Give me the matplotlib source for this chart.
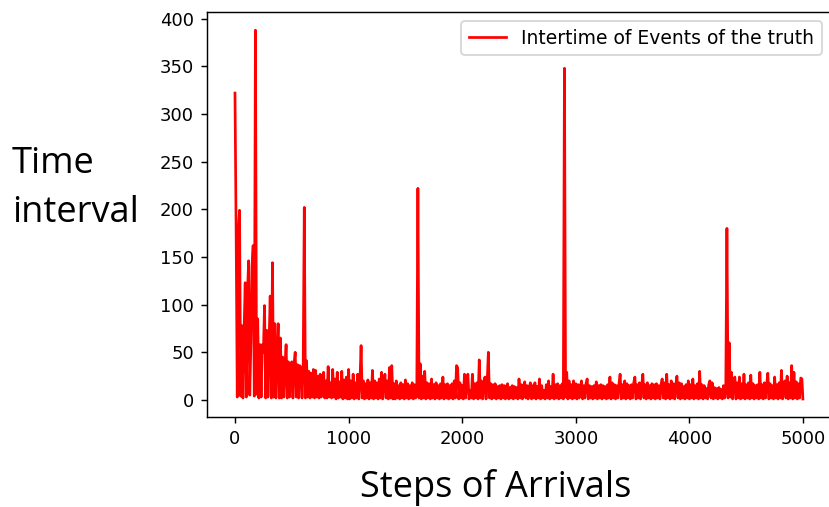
import numpy as np
import matplotlib
matplotlib.use("Agg")
import matplotlib.pyplot as plt

# dense zig-zag line: keep every vertex so the band renders solid
plt.rcParams["path.simplify"] = False

# ----------------------------------------------------------------------
# Data: inter-event times, one value every 10 steps
# ----------------------------------------------------------------------
steps = np.append(np.arange(0, 5000, 10), 4999)

intertime = [
    # 0 - 190
    322, 178, 3, 176, 199, 4, 78, 2, 73, 123, 3, 112, 146, 5, 60, 140, 162, 4, 388, 6,
    # 200 - 390
    85, 2, 58, 3, 58, 50, 99, 2, 73, 3, 60, 109, 2, 144, 3, 80, 2, 45, 80, 2,
    # 400 - 590
    65, 2, 45, 3, 35, 58, 2, 40, 3, 36, 40, 2, 38, 50, 3, 37, 2, 36, 34, 2,
    # 600 - 790
    30, 202, 2, 41, 3, 30, 2, 28, 3, 32, 2, 31, 3, 25, 2, 27, 3, 22, 29, 2,
    # 800 - 990
    20, 2, 35, 3, 18, 2, 32, 3, 22, 1, 29, 2, 19, 3, 30, 1, 21, 2, 24, 1,
    # 1000 - 1190
    32, 1, 20, 2, 27, 1, 18, 2, 27, 1, 20, 57, 2, 20, 1, 17, 2, 21, 1, 18,
    # 1200 - 1390
    2, 31, 1, 20, 2, 18, 1, 22, 2, 29, 1, 19, 27, 2, 20, 1, 34, 2, 36, 1,
    # 1400 - 1590
    17, 1, 20, 2, 15, 1, 18, 2, 16, 1, 21, 2, 17, 1, 15, 2, 18, 1, 16, 2,
    # 1600 - 1790
    5, 222, 2, 38, 1, 25, 2, 30, 1, 18, 2, 17, 1, 22, 2, 16, 1, 18, 2, 15,
    # 1800 - 1990
    1, 17, 2, 24, 1, 16, 2, 17, 1, 15, 2, 17, 1, 20, 2, 36, 34, 1, 18, 2,
    # 2000 - 2190
    15, 1, 27, 2, 18, 27, 1, 10, 2, 27, 1, 17, 2, 18, 1, 42, 2, 20, 1, 16,
    # 2200 - 2390
    24, 1, 19, 50, 2, 17, 1, 16, 2, 17, 1, 14, 2, 15, 1, 16, 2, 15, 1, 14,
    # 2400 - 2590
    17, 1, 13, 2, 15, 1, 14, 2, 13, 1, 22, 2, 16, 1, 14, 19, 2, 15, 1, 13,
    # 2600 - 2790
    18, 1, 15, 2, 18, 1, 14, 2, 22, 1, 15, 2, 10, 1, 16, 2, 20, 1, 14, 2,
    # 2800 - 2990
    27, 1, 16, 2, 17, 1, 15, 2, 17, 1, 348, 3, 29, 1, 20, 2, 16, 1, 20, 2,
    # 3000 - 3190
    17, 1, 16, 2, 14, 20, 1, 15, 2, 17, 22, 1, 15, 2, 14, 1, 15, 2, 19, 1,
    # 3200 - 3390
    15, 2, 16, 1, 15, 2, 14, 1, 16, 2, 24, 1, 18, 2, 16, 1, 15, 2, 17, 27,
    # 3400 - 3590
    1, 16, 2, 20, 1, 17, 2, 15, 1, 16, 2, 18, 24, 1, 16, 2, 18, 1, 15, 27,
    # 3600 - 3790
    2, 16, 1, 18, 2, 15, 1, 17, 2, 16, 1, 17, 2, 15, 1, 16, 22, 2, 18, 1,
    # 3800 - 3990
    27, 2, 16, 1, 20, 2, 17, 1, 15, 25, 2, 18, 1, 17, 2, 14, 1, 16, 2, 20,
    # 4000 - 4190
    1, 16, 2, 22, 1, 15, 2, 17, 1, 30, 2, 16, 1, 15, 2, 12, 1, 16, 20, 2,
    # 4200 - 4390
    18, 1, 13, 2, 12, 1, 13, 2, 11, 1, 15, 2, 13, 180, 2, 60, 3, 29, 1, 20,
    # 4400 - 4590
    24, 1, 18, 2, 24, 1, 17, 2, 27, 1, 16, 2, 18, 1, 26, 2, 17, 1, 15, 2,
    # 4600 - 4790
    16, 1, 29, 2, 16, 1, 18, 2, 16, 28, 1, 17, 2, 15, 1, 24, 2, 16, 1, 18,
    # 4800 - 4990, then 4999
    2, 31, 1, 17, 20, 2, 25, 1, 18, 2, 36, 1, 29, 2, 19, 1, 17, 2, 23, 22,
    1,
]

legend_label = "Intertime of Events of the truth"
x_label = "Steps of Arrivals"
y_label_lines = ["Time", "interval"]

# ----------------------------------------------------------------------
# Figure
# ----------------------------------------------------------------------
fig = plt.figure(figsize=(829 / 130, 507 / 130), dpi=130)
ax = fig.add_axes([0.2492, 0.1767, 0.7536, 0.8002])

ax.plot(steps, intertime, color="red", linewidth=1.5, label=legend_label)
ax.legend(loc="upper right", fontsize=10.4)

# big axis labels sit outside the axes, placed on the figure
label_font = dict(family="Open Sans", size=20, color="black")
fig.text(0.5981, 0.0203, x_label, ha="center", va="baseline", **label_font)
fig.text(0.0145, 0.6588, y_label_lines[0], ha="left", va="baseline", **label_font)
fig.text(0.0145, 0.5627, y_label_lines[1], ha="left", va="baseline", **label_font)

fig.savefig("out.png", dpi=130)
